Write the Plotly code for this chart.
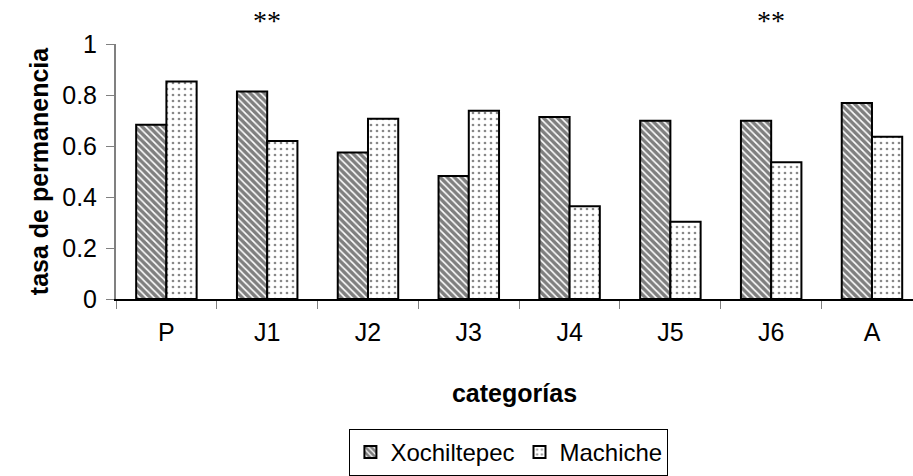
import plotly.graph_objects as go

categorias = ["P", "J1", "J2", "J3", "J4", "J5", "J6", "A"]
xochiltepec = [0.683, 0.814, 0.575, 0.482, 0.714, 0.699, 0.699, 0.769]
machiche = [0.853, 0.620, 0.707, 0.738, 0.364, 0.303, 0.536, 0.636]
y_ticks = [0, 0.2, 0.4, 0.6, 0.8, 1]
y_tick_labels = ["0", "0.2", "0.4", "0.6", "0.8", "1"]
marcadas = ["J1", "J6"]

SANS = "Arial, Liberation Sans, sans-serif"

fig = go.Figure()
fig.add_trace(go.Bar(
    name="Xochiltepec", x=categorias, y=xochiltepec,
    marker=dict(color="white", line=dict(color="black", width=2),
                pattern=dict(shape="\\", fgcolor="black", bgcolor="white",
                             size=5, solidity=0.68)),
))
fig.add_trace(go.Bar(
    name="Machiche", x=categorias, y=machiche,
    marker=dict(color="white", line=dict(color="black", width=2),
                pattern=dict(shape=".", fgcolor="#111111", bgcolor="white",
                             size=6, solidity=0.16)),
))

for c in marcadas:
    fig.add_annotation(x=c, xref="x", y=1.094, yref="paper", text="**",
                       showarrow=False, yanchor="middle",
                       font=dict(family="Times New Roman, Liberation Serif, serif",
                                 size=28, color="black"))

fig.update_layout(
    width=913, height=476,
    margin=dict(l=116, r=0, t=44, b=174),
    plot_bgcolor="white", paper_bgcolor="white",
    barmode="group", bargap=0.4, bargroupgap=0,
    font=dict(family=SANS, size=25, color="black"),
    showlegend=True,
    legend=dict(orientation="h", x=0.493, xanchor="center", y=-0.512, yanchor="top",
                bordercolor="black", borderwidth=1, font=dict(size=24),
                itemwidth=30, traceorder="normal"),
)
fig.update_xaxes(
    type="category", range=[-0.5, 7.407],
    showline=True, linecolor="black", linewidth=1.5,
    ticks="outside", tickson="boundaries", ticklen=8, tickcolor="#808080",
    ticklabelstandoff=10,
    tickfont=dict(size=25), showgrid=False,
    title=dict(text="<b>categorías</b>", font=dict(size=25), standoff=40),
)
fig.update_yaxes(
    range=[0, 1], tickvals=y_ticks, ticktext=y_tick_labels,
    showline=True, linecolor="#808080", linewidth=2,
    ticks="outside", ticklen=8, tickcolor="#808080",
    ticklabelstandoff=4,
    tickfont=dict(size=25), showgrid=False, zeroline=False,
    title=dict(text="<b>tasa de permanencia</b>", font=dict(size=25), standoff=6),
)

fig.write_html("out.html")
